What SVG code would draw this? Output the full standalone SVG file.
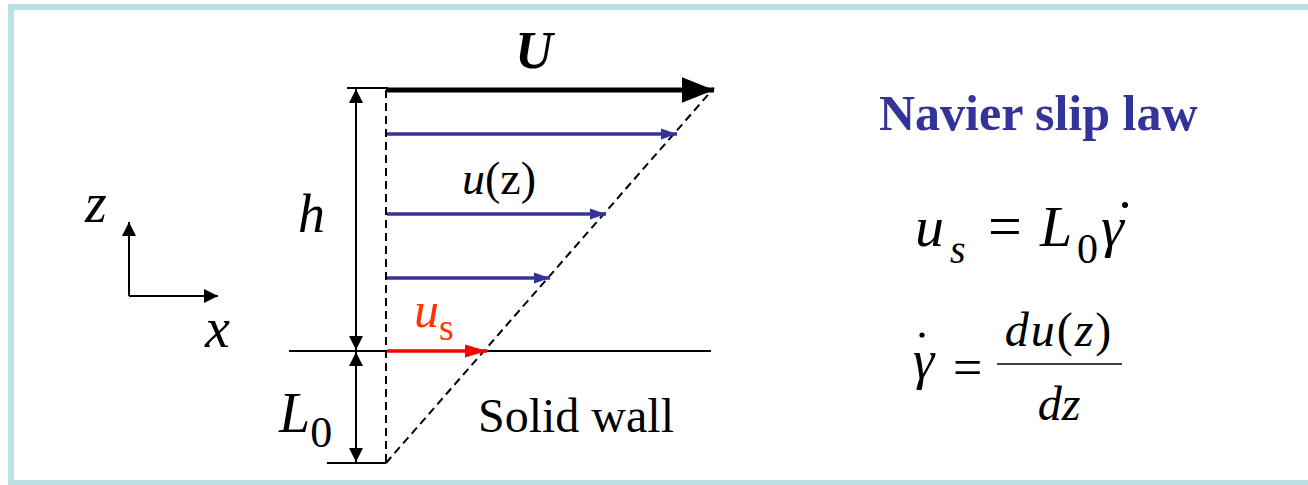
<svg xmlns="http://www.w3.org/2000/svg" width="1308" height="485" viewBox="0 0 1308 485">
<style>
text{font-family:"Liberation Serif","DejaVu Serif",serif;}
.blk{stroke:#000;fill:none;}
.dash{stroke:#000;stroke-width:2;stroke-dasharray:8,5;fill:none;}
.blue{stroke:#333399;stroke-width:3.5;fill:none;}
</style>
<defs>
<marker id="ab" viewBox="0 0 10 10" refX="10" refY="5" markerWidth="14" markerHeight="14" markerUnits="userSpaceOnUse" orient="auto"><path d="M0,0 L10,5 L0,10 z" fill="#000"/></marker>
<marker id="abig" viewBox="0 0 10 10" refX="10" refY="5" markerWidth="32" markerHeight="32" markerUnits="userSpaceOnUse" orient="auto"><path d="M0,1 L10,5 L0,9 z" fill="#000"/></marker>
<marker id="ablue" viewBox="0 0 10 10" refX="10" refY="5" markerWidth="16" markerHeight="16" markerUnits="userSpaceOnUse" orient="auto"><path d="M0,1.5 L10,5 L0,8.5 z" fill="#333399"/></marker>
<marker id="ared" viewBox="0 0 10 10" refX="10" refY="5" markerWidth="22" markerHeight="22" markerUnits="userSpaceOnUse" orient="auto"><path d="M0,2 L10,5 L0,8 z" fill="#ff0000"/></marker>
</defs>
<rect width="1308" height="485" fill="#fff"/>
<rect x="11" y="7" width="1310" height="476" fill="none" stroke="#bde0e3" stroke-width="6"/>

<g id="connectors">
<line x1="347" y1="88" x2="388" y2="88" class="blk" stroke-width="2"/>
<line x1="327" y1="463" x2="386" y2="463" class="blk" stroke-width="2"/>
<line x1="289" y1="351" x2="711" y2="351" class="blk" stroke-width="1.8"/>
<line x1="386" y1="90" x2="386" y2="463" class="dash"/>
<line x1="386" y1="463" x2="714" y2="88" class="dash"/>
<line x1="386" y1="90" x2="714" y2="90" class="blk" stroke-width="5" marker-end="url(#abig)"/>
<line x1="387" y1="134" x2="677" y2="134" class="blue" marker-end="url(#ablue)"/>
<line x1="387" y1="214" x2="606" y2="214" class="blue" marker-end="url(#ablue)"/>
<line x1="387" y1="278" x2="550" y2="278" class="blue" marker-end="url(#ablue)"/>
<line x1="387" y1="351" x2="487" y2="351" stroke="#ff0000" stroke-width="3.5" marker-end="url(#ared)"/>
<line x1="356" y1="200" x2="356" y2="89" class="blk" stroke-width="2" marker-end="url(#ab)"/>
<line x1="356" y1="200" x2="356" y2="350" class="blk" stroke-width="2" marker-end="url(#ab)"/>
<line x1="356" y1="400" x2="356" y2="352" class="blk" stroke-width="2" marker-end="url(#ab)"/>
<line x1="356" y1="400" x2="356" y2="462" class="blk" stroke-width="2" marker-end="url(#ab)"/>
<line x1="129" y1="296" x2="129" y2="222" class="blk" stroke-width="2" marker-end="url(#ab)"/>
<line x1="129" y1="296" x2="218" y2="296" class="blk" stroke-width="2" marker-end="url(#ab)"/>
</g>

<g id="labels-left" font-family="Liberation Serif, serif">
<text x="534" y="68" font-size="52" font-weight="bold" font-style="italic" text-anchor="middle">U</text>
<text x="462" y="194" font-size="46"><tspan font-style="italic">u</tspan>(z)</text>
<text x="298" y="232" font-size="54" font-style="italic">h</text>
<text x="414" y="327" font-size="50" fill="#ff3300"><tspan font-style="italic">u</tspan><tspan font-size="38" dy="13">s</tspan></text>
<text x="279" y="432" font-size="56"><tspan font-style="italic">L</tspan><tspan font-size="44" dy="15">0</tspan></text>
<text x="478" y="432" font-size="48">Solid wall</text>
<text x="85" y="222" font-size="56" font-style="italic">z</text>
<text x="205" y="347" font-size="56" font-style="italic">x</text>
</g>

<g id="formula" font-family="Liberation Serif, serif">
<text x="879" y="130" font-size="50" font-weight="bold" fill="#333399">Navier slip law</text>
<text x="915" y="246" font-size="58" font-style="italic">u</text>
<text x="950" y="263" font-size="40" font-style="italic">s</text>
<text x="988" y="246" font-size="60">=</text>
<text x="1040" y="246" font-size="58" font-style="italic">L</text>
<text x="1077" y="263" font-size="42">0</text>
<text x="1101" y="246" font-size="58" font-style="italic">γ</text>
<circle cx="1125" cy="205" r="3" fill="#000"/>
<text x="913" y="378" font-size="54" font-style="italic">γ</text>
<circle cx="922" cy="335" r="2.6" fill="#000"/>
<text x="953" y="385" font-size="52">=</text>
<line x1="997" y1="364" x2="1122" y2="364" stroke="#000" stroke-width="1.6"/>
<text x="1059" y="346" font-size="48" text-anchor="middle" letter-spacing="2"><tspan font-style="italic">du</tspan>(<tspan font-style="italic">z</tspan>)</text>
<text x="1059" y="420" font-size="48" font-style="italic" text-anchor="middle">dz</text>
</g>
</svg>
